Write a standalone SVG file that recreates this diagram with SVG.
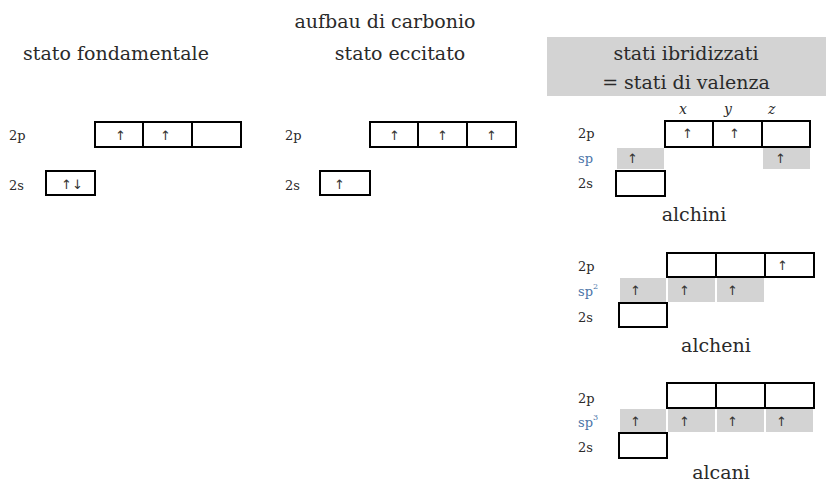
<svg xmlns="http://www.w3.org/2000/svg" width="826" height="484" viewBox="0 0 826 484">
  <style>
    text { font-family: "DejaVu Serif", "Liberation Serif", serif; fill: #2a2a2a; }
    .title { font-size: 19px; }
    .lbl { font-size: 13px; }
    .sp { font-size: 13px; fill: #4a74a8; }
    .ax { font-size: 14px; font-style: italic; }
    .arr { font-size: 13px; fill: #333; font-family: "DejaVu Sans", sans-serif; }
    .box { fill: #fff; stroke: #000; stroke-width: 2; }
    .hyb { fill: #d3d3d3; stroke: none; }
  </style>

  <!-- headings -->
  <g id="headings">
    <text class="title" x="385" y="28" text-anchor="middle">aufbau di carbonio</text>
    <text class="title" x="116" y="60" text-anchor="middle">stato fondamentale</text>
    <text class="title" x="400" y="60" text-anchor="middle">stato eccitato</text>
    <rect x="547" y="37" width="279" height="59" fill="#d3d3d3"/>
    <text class="title" x="686" y="60" text-anchor="middle">stati ibridizzati</text>
    <text class="title" x="686" y="89" text-anchor="middle">= stati di valenza</text>
  </g>

  <!-- ground state -->
  <g id="ground">
    <text class="lbl" x="9" y="140">2p</text>
    <text class="lbl" x="9" y="190">2s</text>
    <rect class="box" x="95" y="122" width="48" height="25"/>
    <rect class="box" x="143" y="122" width="49" height="25"/>
    <rect class="box" x="192" y="122" width="49" height="25"/>
    <text class="arr" x="115" y="140">↑</text>
    <text class="arr" x="160" y="140">↑</text>
    <rect class="box" x="46" y="171" width="49" height="24"/>
    <text class="arr" x="61" y="189">↑↓</text>
  </g>

  <!-- excited state -->
  <g id="excited">
    <text class="lbl" x="285" y="140">2p</text>
    <text class="lbl" x="285" y="190">2s</text>
    <rect class="box" x="370" y="122" width="48" height="25"/>
    <rect class="box" x="418" y="122" width="49" height="25"/>
    <rect class="box" x="467" y="122" width="49" height="25"/>
    <text class="arr" x="389" y="140">↑</text>
    <text class="arr" x="437" y="140">↑</text>
    <text class="arr" x="486" y="140">↑</text>
    <rect class="box" x="320" y="171" width="50" height="24"/>
    <text class="arr" x="334" y="189">↑</text>
  </g>

  <!-- sp hybridisation -->
  <g id="sp">
    <text class="ax" x="679" y="114">x</text>
    <text class="ax" x="724" y="114">y</text>
    <text class="ax" x="768" y="114">z</text>
    <text class="lbl" x="578" y="138">2p</text>
    <text class="sp" x="578" y="163">sp</text>
    <text class="lbl" x="578" y="188">2s</text>
    <rect class="hyb" x="617" y="148" width="47" height="21"/>
    <rect class="hyb" x="763" y="148" width="47" height="21"/>
    <rect class="box" x="665" y="121" width="48" height="26"/>
    <rect class="box" x="713" y="121" width="49" height="26"/>
    <rect class="box" x="762" y="121" width="48" height="26"/>
    <text class="arr" x="682" y="138">↑</text>
    <text class="arr" x="729" y="138">↑</text>
    <text class="arr" x="627" y="163">↑</text>
    <text class="arr" x="775" y="163">↑</text>
    <rect class="box" x="616" y="171" width="49" height="25"/>
    <text class="title" x="694" y="221" text-anchor="middle">alchini</text>
  </g>

  <!-- sp2 hybridisation -->
  <g id="sp2">
    <text class="lbl" x="578" y="271">2p</text>
    <text class="sp" x="578" y="296">sp<tspan font-size="8" dy="-7">2</tspan></text>
    <text class="lbl" x="578" y="322">2s</text>
    <rect class="hyb" x="620" y="278" width="46" height="24"/>
    <rect class="hyb" x="668" y="278" width="47" height="24"/>
    <rect class="hyb" x="717" y="278" width="47" height="24"/>
    <rect class="box" x="667" y="253" width="49" height="24"/>
    <rect class="box" x="716" y="253" width="49" height="24"/>
    <rect class="box" x="765" y="253" width="49" height="24"/>
    <text class="arr" x="777" y="270">↑</text>
    <text class="arr" x="630" y="295">↑</text>
    <text class="arr" x="679" y="295">↑</text>
    <text class="arr" x="727" y="295">↑</text>
    <rect class="box" x="619" y="303" width="48" height="24"/>
    <text class="title" x="716" y="352" text-anchor="middle">alcheni</text>
  </g>

  <!-- sp3 hybridisation -->
  <g id="sp3">
    <text class="lbl" x="578" y="403">2p</text>
    <text class="sp" x="578" y="427">sp<tspan font-size="8" dy="-7">3</tspan></text>
    <text class="lbl" x="578" y="452">2s</text>
    <rect class="hyb" x="620" y="409" width="46" height="23"/>
    <rect class="hyb" x="668" y="409" width="47" height="23"/>
    <rect class="hyb" x="717" y="409" width="47" height="23"/>
    <rect class="hyb" x="766" y="409" width="47" height="23"/>
    <rect class="box" x="667" y="383" width="49" height="25"/>
    <rect class="box" x="716" y="383" width="49" height="25"/>
    <rect class="box" x="765" y="383" width="49" height="25"/>
    <text class="arr" x="630" y="426">↑</text>
    <text class="arr" x="679" y="426">↑</text>
    <text class="arr" x="727" y="426">↑</text>
    <text class="arr" x="776" y="426">↑</text>
    <rect class="box" x="619" y="433" width="48" height="25"/>
    <text class="title" x="721" y="479" text-anchor="middle">alcani</text>
  </g>
</svg>
